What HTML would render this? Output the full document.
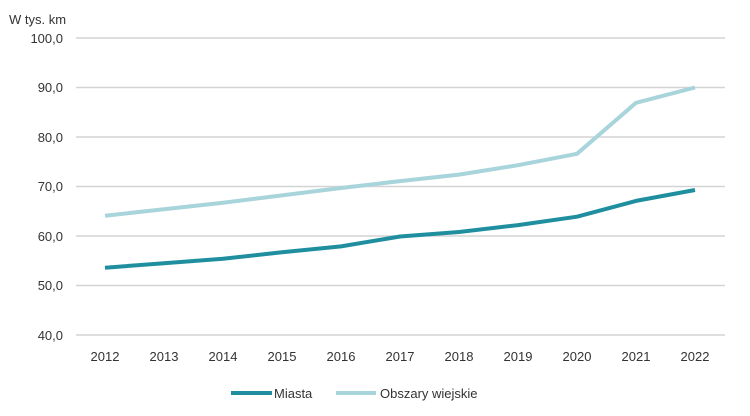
<!DOCTYPE html>
<html><head><style>body{margin:0;background:#fff}svg{display:block}text{font-family:"Liberation Sans",sans-serif;fill:#333;font-size:13px}</style></head><body>
<svg width="750" height="416" viewBox="0 0 750 416">
<text x="9" y="24">W tys. km</text>
<g stroke="#d4d4d4" stroke-width="1.5">
<line x1="76" x2="725" y1="38" y2="38"/><line x1="76" x2="725" y1="87.5" y2="87.5"/><line x1="76" x2="725" y1="137" y2="137"/><line x1="76" x2="725" y1="186.5" y2="186.5"/><line x1="76" x2="725" y1="236" y2="236"/><line x1="76" x2="725" y1="285.5" y2="285.5"/><line x1="76" x2="725" y1="335" y2="335"/>
</g>
<g text-anchor="end">
<text x="63" y="43">100,0</text><text x="63" y="92">90,0</text><text x="63" y="142">80,0</text><text x="63" y="191">70,0</text><text x="63" y="241">60,0</text><text x="63" y="290">50,0</text><text x="63" y="340">40,0</text>
</g>
<g text-anchor="middle">
<text x="105" y="361">2012</text><text x="164" y="361">2013</text><text x="223" y="361">2014</text><text x="282" y="361">2015</text><text x="341" y="361">2016</text><text x="400" y="361">2017</text><text x="459" y="361">2018</text><text x="518" y="361">2019</text><text x="577" y="361">2020</text><text x="636" y="361">2021</text><text x="695" y="361">2022</text>
</g>
<polyline fill="none" stroke="#a8d4dc" stroke-width="4" stroke-linejoin="round" points="105,215.7 164,209.3 223,202.8 282,195.4 341,188 400,181.1 459,174.6 518,165.2 577,153.8 636,102.8 695,87.5"/>
<polyline fill="none" stroke="#1f8fa0" stroke-width="4" stroke-linejoin="round" points="105,267.7 164,263.2 223,258.8 282,252.3 341,246.4 400,236.5 459,232 518,225.1 577,216.7 636,200.9 695,190"/>
<line x1="231" x2="272" y1="393" y2="393" stroke="#1f8fa0" stroke-width="4"/>
<text x="274" y="398">Miasta</text>
<line x1="336" x2="376" y1="393" y2="393" stroke="#a8d4dc" stroke-width="4"/>
<text x="380" y="398">Obszary wiejskie</text>
</svg>
</body></html>
